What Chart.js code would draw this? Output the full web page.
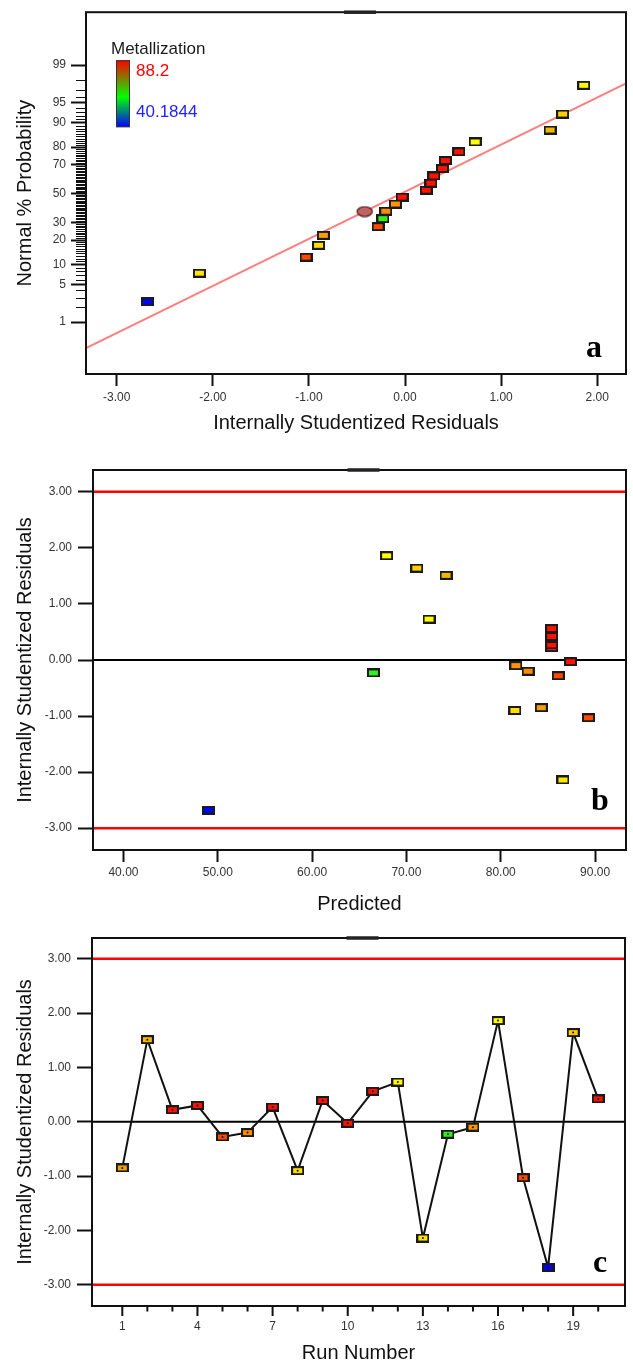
<!DOCTYPE html>
<html>
<head>
<meta charset="utf-8">
<title>Residual diagnostics - Metallization</title>
<script src="https://cdn.jsdelivr.net/npm/chart.js@4.4.1/dist/chart.umd.min.js"></script>
<style>
  html, body { margin: 0; padding: 0; background: #fff; }
  body { width: 633px; height: 1363px; position: relative; overflow: hidden; }
  canvas { position: absolute; left: 0; }
</style>
</head>
<body>
<canvas id="normalPlot" width="633" height="440" style="top:0px"></canvas>
<canvas id="predictedPlot" width="633" height="480" style="top:440px"></canvas>
<canvas id="runPlot" width="633" height="443" style="top:920px"></canvas>
<script>
// ---- data, one entry per run ----
const runNumbers = [1, 2, 3, 4, 5, 6, 7, 8, 9, 10, 11, 12, 13, 14, 15, 16, 17, 18, 19, 20];
const residuals  = [-0.85, 1.51, 0.22, 0.30, -0.28, -0.20, 0.27, -0.90, 0.39, -0.03,
                    0.56, 0.73, -2.14, -0.23, -0.10, 1.86, -1.03, -2.68, 1.64, 0.42];
const predicted  = [84.3, 74.2, 85.4, 85.4, 86.1, 82.9, 85.4, 81.5, 85.4, 87.4,
                    85.4, 72.4, 86.6, 66.5, 81.6, 67.9, 89.3, 49.0, 71.1, 85.4];
// normal % probability of each run's residual
const normalProb = [22.5, 87.5, 52.5, 62.5, 27.5, 37.5, 57.5, 17.5, 67.5, 47.5,
                    77.5, 82.5, 7.5, 32.5, 42.5, 97.5, 12.5, 2.5, 92.5, 72.5];
// marker colour follows the run's Metallization value
const runColors = ['#f7a100', '#f2b800', '#ff1200', '#ff1200', '#ff4800', '#ff8c00', '#ff1200', '#ffde00', '#ff1200', '#ff1200',
                   '#ff1200', '#ffff00', '#ffe800', '#33ee22', '#ff9400', '#ffff00', '#ff4800', '#0000ff', '#ffcc00', '#ff1200'];

const colorRange = [40.1844, 88.2];

// reference line of the normal plot (ends at the frame)
const fitLineResidual = [-3.32, 2.30];
const fitLineProb = [0.26, 97.7];
// highlighted marker on the normal plot
const markResidual = [-0.42];
const markProb = [37.3];

// ---- tick labels ----
const probTicks = [1, 5, 10, 20, 30, 50, 70, 80, 90, 95, 99];
const residualTicks = [-3, -2, -1, 0, 1, 2];
const predictedTicks = [40, 50, 60, 70, 80, 90];
const studentTicks = [-3, -2, -1, 0, 1, 2, 3];
const runTicks = runNumbers;
const runTickLabels = [1, 4, 7, 10, 13, 16, 19];
const limitValues = [-3, 3];

const FONT = "'Liberation Sans', Arial, sans-serif";
Chart.defaults.font.family = FONT;

// inverse normal CDF (Acklam), percent -> z
function probToZ(pct) {
  const p = pct / 100;
  const a = [-3.969683028665376e+01, 2.209460984245205e+02, -2.759285104469687e+02, 1.383577518672690e+02, -3.066479806614716e+01, 2.506628277459239e+00];
  const b = [-5.447609879822406e+01, 1.615858368580409e+02, -1.556989798598866e+02, 6.680131188771972e+01, -1.328068155288572e+01];
  const c = [-7.784894002430293e-03, -3.223964580411365e-01, -2.400758277161838e+00, -2.549732539343734e+00, 4.374664141464968e+00, 2.938163982698783e+00];
  const d = [7.784695709041462e-03, 3.224671290700398e-01, 2.445134137142996e+00, 3.754408661907416e+00];
  const lo = 0.02425;
  if (p < lo) {
    const q = Math.sqrt(-2 * Math.log(p));
    return (((((c[0]*q+c[1])*q+c[2])*q+c[3])*q+c[4])*q+c[5]) / ((((d[0]*q+d[1])*q+d[2])*q+d[3])*q+1);
  }
  if (p > 1 - lo) {
    const q = Math.sqrt(-2 * Math.log(1 - p));
    return -(((((c[0]*q+c[1])*q+c[2])*q+c[3])*q+c[4])*q+c[5]) / ((((d[0]*q+d[1])*q+d[2])*q+d[3])*q+1);
  }
  const q = p - 0.5, r = q * q;
  return (((((a[0]*r+a[1])*r+a[2])*r+a[3])*r+a[4])*r+a[5])*q / (((((b[0]*r+b[1])*r+b[2])*r+b[3])*r+b[4])*r+1);
}

// small outlined rectangles used as point markers
const markerCache = {};
function marker(fill) {
  if (!markerCache[fill]) {
    const cv = document.createElement('canvas');
    cv.width = 13; cv.height = 9;
    const g = cv.getContext('2d');
    g.fillStyle = '#1a1a1a';
    g.fillRect(0, 0, 13, 9);
    g.fillStyle = fill;
    g.fillRect(2, 2, 9, 5);
    markerCache[fill] = cv;
  }
  return markerCache[fill];
}

function ellipseMarker() {
  const cv = document.createElement('canvas');
  cv.width = 18; cv.height = 12;
  const g = cv.getContext('2d');
  g.beginPath();
  g.ellipse(9, 6, 7.6, 4.8, 0, 0, Math.PI * 2);
  g.fillStyle = '#c26464';
  g.fill();
  g.lineWidth = 1.3;
  g.strokeStyle = '#4a2020';
  g.stroke();
  return cv;
}

function tickFont() { return { family: FONT, size: 12 }; }
function axisTitle(text, padding) {
  return { display: true, text, color: '#111', font: { family: FONT, size: 20, lineHeight: 1 }, padding };
}
const fixed2 = v => Number(v).toFixed(2);

// frame, reference lines and panel letter
function decor(opts) {
  return {
    id: 'decor',
    beforeDatasetsDraw(chart) {
      const { ctx, chartArea: ca, scales } = chart;
      (opts.hLines || []).forEach(l => {
        const y = scales.y.getPixelForValue(l.value);
        ctx.save();
        ctx.strokeStyle = l.color;
        ctx.lineWidth = l.width;
        ctx.beginPath();
        ctx.moveTo(ca.left, y);
        ctx.lineTo(ca.right, y);
        ctx.stroke();
        ctx.restore();
      });
    },
    afterDatasetsDraw(chart) {
      const { ctx, chartArea: ca } = chart;
      ctx.save();
      ctx.strokeStyle = '#111';
      ctx.lineWidth = 2;
      ctx.strokeRect(ca.left, ca.top, ca.right - ca.left, ca.bottom - ca.top);
      const cx = (ca.left + ca.right) / 2;
      ctx.lineWidth = 3.5;
      ctx.strokeStyle = '#222';
      ctx.beginPath();
      ctx.moveTo(cx - 12, ca.top);
      ctx.lineTo(cx + 20, ca.top);
      ctx.stroke();
      ctx.fillStyle = '#000';
      ctx.font = 'bold 32px "Liberation Serif", "Times New Roman", serif';
      ctx.textAlign = 'center';
      ctx.textBaseline = 'alphabetic';
      ctx.fillText(opts.letter, ca.right - opts.letterDx, ca.bottom - opts.letterDy);
      ctx.restore();
      if (opts.extra) opts.extra(chart);
    }
  };
}

const baseOptions = {
  responsive: false,
  animation: false,
  devicePixelRatio: 1,
  events: [],
  plugins: { legend: { display: false }, tooltip: { enabled: false } }
};

// ---------- a: normal probability plot ----------
const minorProbs = [];
for (let p = 1; p <= 99; p++) if (!probTicks.includes(p)) minorProbs.push(p);

new Chart(document.getElementById('normalPlot'), {
  type: 'scatter',
  data: {
    datasets: [
      {
        type: 'line',
        data: fitLineResidual.map((x, i) => ({ x, y: probToZ(fitLineProb[i]) })),
        borderColor: 'rgba(255, 112, 112, 0.9)',
        borderWidth: 2,
        pointRadius: 0,
        order: 3
      },
      {
        data: markResidual.map((x, i) => ({ x, y: probToZ(markProb[i]) })),
        pointStyle: ellipseMarker(),
        pointRadius: 6,
        order: 2
      },
      {
        data: residuals.map((r, i) => ({ x: r, y: probToZ(normalProb[i]) })),
        pointStyle: ctx => marker(runColors[ctx.dataIndex] || '#f00'),
        pointRadius: 6,
        order: 1
      }
    ]
  },
  options: {
    ...baseOptions,
    layout: { padding: { top: 11, right: 3, left: 0, bottom: 0 } },
    scales: {
      x: {
        type: 'linear', min: -3.32, max: 2.30,
        afterBuildTicks: s => { s.ticks = residualTicks.map(v => ({ value: v })); },
        afterFit: s => { s.height = 66; },
        border: { display: false },
        grid: { drawOnChartArea: false, tickLength: 12, tickWidth: 2, tickColor: '#111' },
        ticks: { callback: fixed2, font: tickFont(), color: '#333', padding: 4, autoSkip: false, maxRotation: 0 },
        title: axisTitle('Internally Studentized Residuals', { top: 0, bottom: 7 })
      },
      y: {
        type: 'linear', min: -3.264, max: 3.282,
        afterBuildTicks: s => { s.ticks = probTicks.map(p => ({ value: probToZ(p) })); },
        afterFit: s => { s.width = 86; },
        border: { display: false },
        grid: { drawOnChartArea: false, tickLength: 15, tickWidth: 2, tickColor: '#111' },
        ticks: { callback: (v, i) => String(probTicks[i]), font: tickFont(), color: '#333', padding: 5, autoSkip: false },
        title: axisTitle('Normal % Probability', { top: 15, bottom: 0 })
      }
    }
  },
  plugins: [decor({
    letter: 'a', letterDx: 32, letterDy: 17,
    extra(chart) {
      const { ctx, chartArea: ca, scales } = chart;
      ctx.save();
      // minor probability ticks
      ctx.strokeStyle = '#111';
      ctx.lineWidth = 1;
      minorProbs.forEach(p => {
        const y = Math.round(scales.y.getPixelForValue(probToZ(p))) + 0.5;
        ctx.beginPath();
        ctx.moveTo(ca.left - 10, y);
        ctx.lineTo(ca.left, y);
        ctx.stroke();
      });
      // colour key
      const bx = ca.left + 30, by = ca.top + 48, bw = 14, bh = 67;
      const grad = ctx.createLinearGradient(0, by, 0, by + bh);
      grad.addColorStop(0, '#ff0000');
      grad.addColorStop(0.55, '#00ff00');
      grad.addColorStop(1, '#0000ff');
      ctx.fillStyle = grad;
      ctx.fillRect(bx, by, bw, bh);
      ctx.strokeStyle = '#333';
      ctx.strokeRect(bx + 0.5, by + 0.5, bw - 1, bh - 1);
      ctx.font = '17px ' + FONT;
      ctx.textBaseline = 'middle';
      ctx.textAlign = 'left';
      ctx.fillStyle = '#1a1a1a';
      ctx.fillText('Metallization', ca.left + 25, ca.top + 37);
      ctx.fillStyle = '#ff0000';
      ctx.fillText(String(colorRange[1]), bx + bw + 6, by + 11);
      ctx.fillStyle = '#2222ff';
      ctx.fillText(String(colorRange[0]), bx + bw + 6, by + 52);
      ctx.restore();
    }
  })]
});

// ---------- b: residuals vs predicted ----------
new Chart(document.getElementById('predictedPlot'), {
  type: 'scatter',
  data: {
    datasets: [{
      data: predicted.map((p, i) => ({ x: p, y: residuals[i] })),
      pointStyle: ctx => marker(runColors[ctx.dataIndex] || '#f00'),
      pointRadius: 6
    }]
  },
  options: {
    ...baseOptions,
    layout: { padding: { top: 30, right: 3, left: 0, bottom: 0 } },
    scales: {
      x: {
        type: 'linear', min: 36.77, max: 93.28,
        afterBuildTicks: s => { s.ticks = predictedTicks.map(v => ({ value: v })); },
        afterFit: s => { s.height = 70; },
        border: { display: false },
        grid: { drawOnChartArea: false, tickLength: 12, tickWidth: 2, tickColor: '#111' },
        ticks: { callback: fixed2, font: tickFont(), color: '#333', padding: 3, autoSkip: false, maxRotation: 0 },
        title: axisTitle('Predicted', { top: 0, bottom: 6 })
      },
      y: {
        type: 'linear', min: -3.39, max: 3.39,
        afterBuildTicks: s => { s.ticks = studentTicks.map(v => ({ value: v })); },
        afterFit: s => { s.width = 93; },
        border: { display: false },
        grid: { drawOnChartArea: false, tickLength: 15, tickWidth: 2, tickColor: '#111' },
        ticks: { callback: fixed2, font: tickFont(), color: '#333', padding: 6, autoSkip: false },
        title: axisTitle('Internally Studentized Residuals', { top: 15, bottom: 0 })
      }
    }
  },
  plugins: [decor({
    letter: 'b', letterDx: 26, letterDy: 40,
    hLines: [
      { value: limitValues[1], color: '#ff0000', width: 2.5 },
      { value: limitValues[0], color: '#ff0000', width: 2.5 },
      { value: 0, color: '#000', width: 2 }
    ]
  })]
});

// ---------- c: residuals vs run number ----------
new Chart(document.getElementById('runPlot'), {
  type: 'scatter',
  data: {
    datasets: [
      {
        data: runNumbers.map((r, i) => ({ x: r, y: residuals[i] })),
        showLine: true,
        borderColor: '#111',
        borderWidth: 2,
        pointStyle: ctx => marker(runColors[ctx.dataIndex] || '#f00'),
        pointRadius: 6,
        order: 2
      },
      {
        data: runNumbers.map((r, i) => ({ x: r, y: residuals[i] })),
        pointStyle: 'circle',
        pointRadius: 1,
        pointBorderWidth: 0,
        pointBackgroundColor: '#111',
        order: 1
      }
    ]
  },
  options: {
    ...baseOptions,
    layout: { padding: { top: 18, right: 3, left: 0, bottom: 0 } },
    scales: {
      x: {
        type: 'linear', min: -0.21, max: 21.07,
        afterBuildTicks: s => { s.ticks = runTicks.map(v => ({ value: v })); },
        afterFit: s => { s.height = 57; },
        border: { display: false },
        grid: { drawOnChartArea: false, tickLength: 10, tickWidth: 2, tickColor: 'rgba(0,0,0,0)' },
        ticks: {
          callback: v => runTickLabels.includes(v) ? String(v) : '',
          font: tickFont(), color: '#333', padding: 3, autoSkip: false, maxRotation: 0
        },
        title: axisTitle('Run Number', { top: 0, bottom: 0 })
      },
      y: {
        type: 'linear', min: -3.39, max: 3.38,
        afterBuildTicks: s => { s.ticks = studentTicks.map(v => ({ value: v })); },
        afterFit: s => { s.width = 92; },
        border: { display: false },
        grid: { drawOnChartArea: false, tickLength: 15, tickWidth: 2, tickColor: '#111' },
        ticks: { callback: fixed2, font: tickFont(), color: '#333', padding: 6, autoSkip: false },
        title: axisTitle('Internally Studentized Residuals', { top: 15, bottom: 0 })
      }
    }
  },
  plugins: [decor({
    letter: 'c', letterDx: 25, letterDy: 34,
    hLines: [
      { value: limitValues[1], color: '#ff0000', width: 2.5 },
      { value: limitValues[0], color: '#ff0000', width: 2.5 },
      { value: 0, color: '#000', width: 2 }
    ],
    extra(chart) {
      const { ctx, chartArea: ca, scales } = chart;
      ctx.save();
      ctx.strokeStyle = '#111';
      ctx.lineWidth = 2;
      runTicks.forEach(r => {
        const x = scales.x.getPixelForValue(r);
        const len = runTickLabels.includes(r) ? 10 : 5.5;
        ctx.beginPath();
        ctx.moveTo(x, ca.bottom);
        ctx.lineTo(x, ca.bottom + len);
        ctx.stroke();
      });
      ctx.restore();
    }
  })]
});
</script>
</body>
</html>
